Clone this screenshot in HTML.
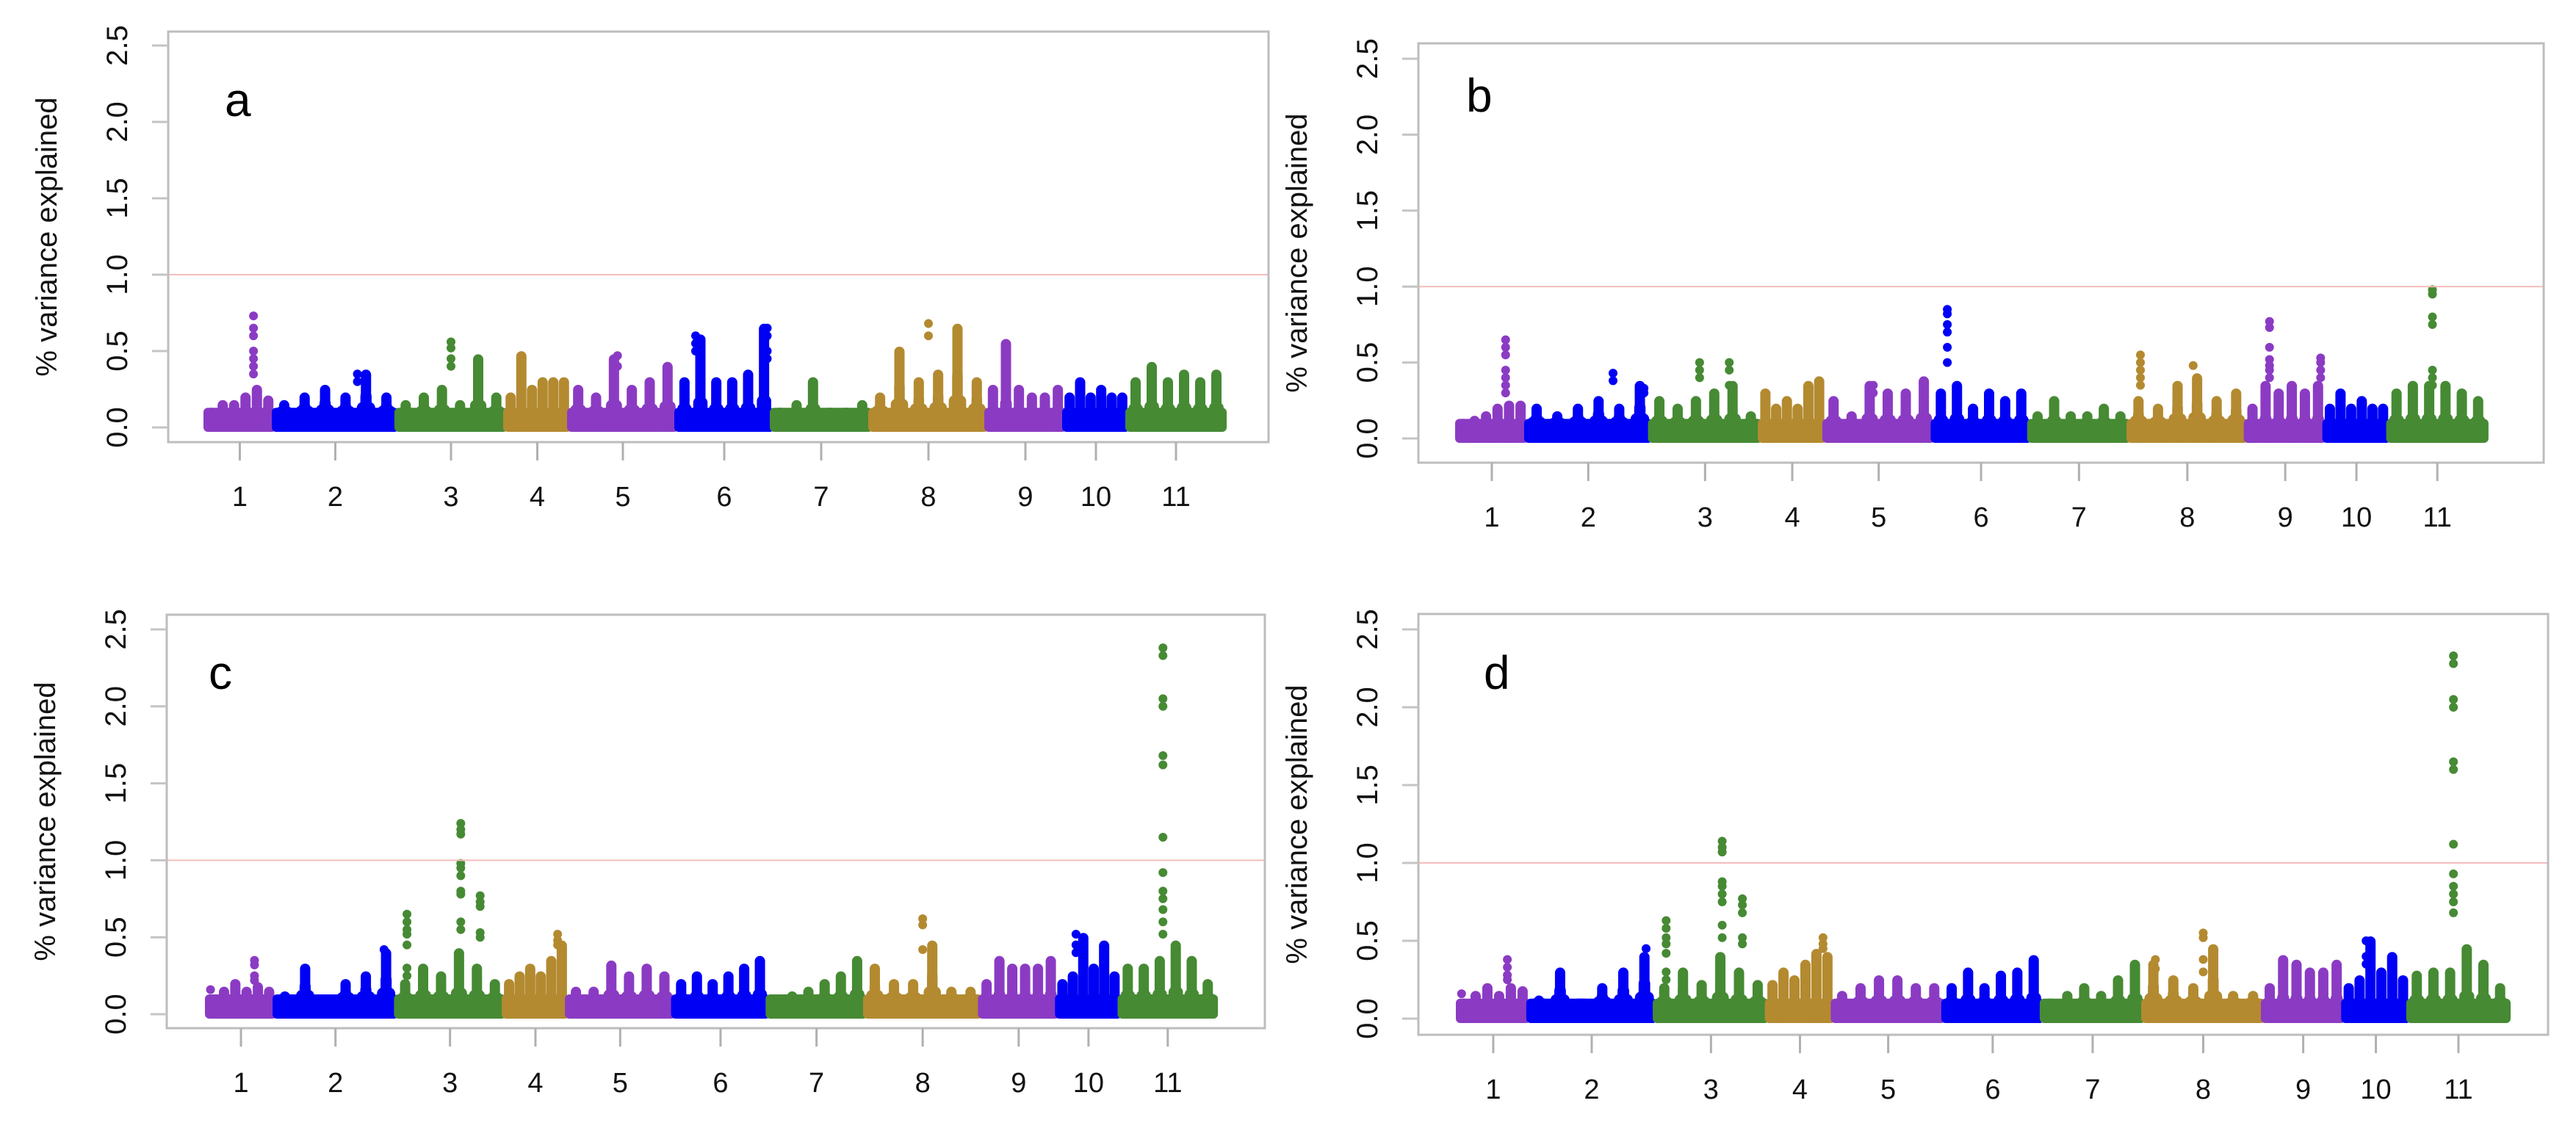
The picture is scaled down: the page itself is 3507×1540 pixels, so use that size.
<!DOCTYPE html>
<html><head><meta charset="utf-8"><style>
html,body{margin:0;padding:0;background:#fff;}
svg{display:block;font-family:"Liberation Sans",Arial,sans-serif;}
</style></head><body>
<svg id="fig" width="3507" height="1540" viewBox="0 0 3507 1540" xmlns="http://www.w3.org/2000/svg"></svg>
<script>
const chromLabels = ["1","2","3","4","5","6","7","8","9","10","11"];
const chromLengths = [93,167,148,87,146,130,134,158,106,86,132];
const chromColors = ["#8b3bc3","#0000f5","#468a34","#b38a30","#8b3bc3","#0000f5","#468a34","#b38a30","#8b3bc3","#0000f5","#468a34"];
const yTicks = [0,0.5,1,1.5,2,2.5];
const yTickLabels = ["0.0","0.5","1.0","1.5","2.0","2.5"];
const threshold = 1.0;
const baseLevel = 0.1;

const envA = [[0.1,0.15,0.15,0.2,0.25,0.18],[0.15,0.2,0.25,0.2,0.35,0.2],[0.15,0.2,0.25,0.15,0.45,0.2],[0.2,0.47,0.25,0.3,0.3,0.3],[0.25,0.2,0.45,0.25,0.3,0.4],[0.3,0.58,0.3,0.3,0.35,0.65],[0.1,0.15,0.3,0.1,0.1,0.15],[0.2,0.5,0.3,0.35,0.65,0.3],[0.25,0.55,0.25,0.2,0.2,0.25],[0.2,0.3,0.2,0.25,0.2,0.2],[0.3,0.4,0.3,0.35,0.3,0.35]];
const envB = [[0.1,0.12,0.15,0.2,0.22,0.22],[0.2,0.15,0.2,0.25,0.2,0.35],[0.25,0.2,0.25,0.3,0.35,0.15],[0.3,0.2,0.25,0.2,0.35,0.38],[0.25,0.15,0.35,0.3,0.3,0.38],[0.3,0.35,0.2,0.3,0.25,0.3],[0.15,0.25,0.15,0.15,0.2,0.15],[0.25,0.2,0.35,0.4,0.25,0.3],[0.2,0.35,0.3,0.35,0.3,0.35],[0.2,0.3,0.2,0.25,0.2,0.2],[0.3,0.35,0.35,0.35,0.3,0.25]];
const envC = [[0.1,0.15,0.2,0.15,0.18,0.15],[0.12,0.3,0.1,0.2,0.25,0.4],[0.2,0.3,0.25,0.4,0.3,0.2],[0.2,0.25,0.3,0.25,0.35,0.45],[0.15,0.15,0.32,0.25,0.3,0.25],[0.2,0.25,0.2,0.25,0.3,0.35],[0.1,0.12,0.15,0.2,0.25,0.35],[0.3,0.2,0.2,0.45,0.15,0.15],[0.2,0.35,0.3,0.3,0.3,0.35],[0.2,0.25,0.5,0.3,0.45,0.25],[0.3,0.3,0.35,0.45,0.35,0.2]];
const envD = [[0.1,0.15,0.2,0.15,0.2,0.18],[0.12,0.3,0.1,0.2,0.3,0.4],[0.2,0.3,0.22,0.4,0.3,0.22],[0.22,0.3,0.25,0.35,0.42,0.4],[0.15,0.2,0.25,0.25,0.2,0.2],[0.2,0.3,0.2,0.28,0.3,0.38],[0.1,0.15,0.2,0.15,0.25,0.35],[0.35,0.25,0.2,0.45,0.15,0.15],[0.2,0.38,0.35,0.3,0.3,0.35],[0.2,0.25,0.5,0.3,0.4,0.25],[0.28,0.3,0.3,0.45,0.35,0.2]];

const peaksA = [[1,0.7,[0.73,0.65,0.6,0.5,0.45,0.4,0.35]],[2,0.68,[0.35,0.3]],[3,0.5,[0.56,0.52,0.45,0.4]],[4,0.25,[0.47,0.45,0.4]],[5,0.45,[0.47,0.4]],[6,0.2,[0.6,0.55,0.5]],[6,0.95,[0.65,0.6,0.5,0.45]],[8,0.5,[0.68,0.6]],[9,0.25,[0.55,0.5]]];
const peaksB = [[1,0.7,[0.65,0.6,0.55,0.45,0.4,0.35,0.3]],[2,0.7,[0.43,0.38]],[2,0.95,[0.33,0.3]],[3,0.45,[0.5,0.45,0.4]],[3,0.72,[0.5,0.45,0.35]],[5,0.45,[0.35,0.3]],[6,0.15,[0.85,0.82,0.75,0.7,0.6,0.5]],[8,0.1,[0.55,0.5,0.45,0.4,0.35]],[8,0.55,[0.48]],[9,0.3,[0.77,0.73,0.6,0.52,0.48,0.45,0.4]],[9,0.95,[0.53,0.5,0.45,0.4]],[11,0.45,[0.98,0.95,0.8,0.75,0.45,0.4,0.35]]];
const peaksC = [[1,0.05,[0.16]],[1,0.7,[0.35,0.32,0.25,0.22]],[2,0.9,[0.42]],[3,0.1,[0.65,0.6,0.55,0.52,0.45,0.3,0.25]],[3,0.6,[1.24,1.2,1.17,0.98,0.95,0.9,0.8,0.78,0.6,0.55]],[3,0.78,[0.77,0.73,0.7,0.53,0.5]],[4,0.85,[0.52,0.48,0.45]],[8,0.5,[0.62,0.58,0.42]],[10,0.3,[0.52,0.45,0.4]],[11,0.45,[2.38,2.33,2.05,2.0,1.68,1.62,1.15,0.92,0.8,0.75,0.68,0.6,0.52]]];
const peaksD = [[1,0.05,[0.16]],[1,0.7,[0.38,0.33,0.28,0.25]],[2,0.93,[0.45]],[3,0.1,[0.63,0.58,0.52,0.48,0.42,0.3,0.25]],[3,0.6,[1.14,1.1,1.07,0.88,0.85,0.8,0.75,0.6,0.52]],[3,0.78,[0.77,0.73,0.68,0.52,0.48]],[4,0.85,[0.52,0.48,0.45]],[8,0.1,[0.38,0.32]],[8,0.5,[0.55,0.52,0.38,0.3]],[10,0.35,[0.5,0.4,0.35]],[11,0.45,[2.33,2.28,2.05,2.0,1.65,1.6,1.12,0.93,0.85,0.8,0.75,0.68]]];

const panels = [
 {id:"a",env:envA,peaks:peaksA,l:229,t:43,r:1727,b:602,y0:582,ppu:208,xs:280,k:1.0,lx:306,ly:158},
 {id:"b",env:envB,peaks:peaksB,l:1931,t:59,r:3463,b:630,y0:597,ppu:206.8,xs:1984,k:1.01,lx:1996,ly:152},
 {id:"c",env:envC,peaks:peaksC,l:227,t:837,r:1722,b:1400,y0:1381,ppu:209.6,xs:282,k:0.99,lx:284,ly:938},
 {id:"d",env:envD,peaks:peaksD,l:1931,t:836,r:3469,b:1409,y0:1387,ppu:212,xs:1985,k:1.031,lx:2020,ly:938}
];

const NS="http://www.w3.org/2000/svg";
const svg=document.getElementById("fig");
function mk(tag,attrs,parent){const e=document.createElementNS(NS,tag);for(const a in attrs)e.setAttribute(a,attrs[a]);parent.appendChild(e);return e;}

const starts=[];let acc=0;for(const L of chromLengths){starts.push(acc);acc+=L;}

panels.forEach(p=>{
  const g=mk("g",{},svg);
  
  
  const X=u=>p.xs+u*p.k;
  const Y=v=>p.y0-v*p.ppu;
  const R=6;
  const dg=mk("g",{},g);
  
  
  chromLengths.forEach((L,ci)=>{
    const col=chromColors[ci];
    const x0=X(starts[ci]), x1=X(starts[ci]+L);
    const bins=p.env[ci];
    const bw=(x1-x0)/bins.length;
    const baseTop=Y(baseLevel)-R;
    const blk=mk("rect",{x:x0-3,y:baseTop,width:x1-x0+6,height:Y(0)+R-baseTop,rx:6,fill:col},dg);
    
    
    bins.forEach((v,bi)=>{
      const cx=x0+bw*(bi+0.5);
      const top=Y(v)-R;
      const s=mk("rect",{x:cx-7,y:top,width:14,height:Y(0)+R-top,rx:7,fill:col},dg);
      
      
      const mid=Y(baseLevel+(v-baseLevel)*0.45)-R;
      const sw=Math.min(bw*0.55,34);
      const s2=mk("rect",{x:cx-sw/2,y:mid,width:sw,height:Y(0)+R-mid,rx:8,fill:col},dg);
      
      
      const mid2=Y(baseLevel+(v-baseLevel)*0.15)-R;
      const s3=mk("rect",{x:cx-bw*0.45,y:mid2,width:bw*0.9,height:Y(0)+R-mid2,rx:8,fill:col},dg);
      
      
    });
  });
  p.peaks.forEach(pk=>{
    const ci=pk[0]-1;
    const cx=X(starts[ci]+chromLengths[ci]*pk[1]);
    pk[2].forEach(v=>{
      const c=mk("circle",{cx:cx,cy:Y(v),r:R,fill:chromColors[ci]},dg);
      
      
    });
  });
  const th=mk("line",{x1:p.l,x2:p.r,y1:Y(threshold),y2:Y(threshold),stroke:"#f5bcbc","stroke-width":2},g);
  
  
  const box=mk("rect",{x:p.l,y:p.t,width:p.r-p.l,height:p.b-p.t,fill:"none",stroke:"#bdbdbd","stroke-width":3},g);
  
  
  yTicks.forEach((v,i)=>{
    const tl=mk("line",{x1:p.l-22,x2:p.l,y1:Y(v),y2:Y(v),stroke:"#c4c4c4","stroke-width":3},g);
    
    
    const tx=mk("text",{x:0,y:0,"font-size":40,"text-anchor":"middle",fill:"#111",transform:`translate(${p.l-56},${Y(v)}) rotate(-90)`},g);
    tx.textContent=yTickLabels[i];
    
    
  });
  chromLabels.forEach((lab,ci)=>{
    const cx=X(starts[ci]+chromLengths[ci]/2);
    const tl=mk("line",{x1:cx,x2:cx,y1:p.b,y2:p.b+25,stroke:"#b0b0b0","stroke-width":3},g);
    
    
    const tx=mk("text",{x:cx,y:p.b+87,"font-size":38,"text-anchor":"middle",fill:"#111"},g);
    tx.textContent=lab;
    
    
  });
  const yt=mk("text",{x:0,y:0,"font-size":40,"text-anchor":"middle",fill:"#111",transform:`translate(${p.l-152},${(p.t+p.b)/2}) rotate(-90)`},g);
  yt.textContent="% variance explained";
  
  
  const pl=mk("text",{x:p.lx,y:p.ly,"font-size":64,fill:"#000"},g);
  pl.textContent=p.id;
  
  
});
</script>
</body></html>
